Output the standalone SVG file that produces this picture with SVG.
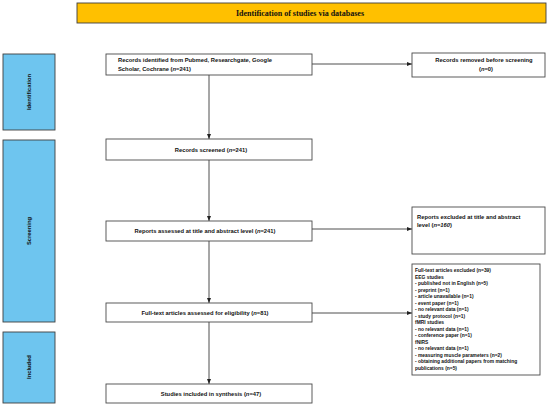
<svg xmlns="http://www.w3.org/2000/svg" width="550" height="408" viewBox="0 0 550 408">
<style>
.box{fill:#fff;stroke:#4a4a4a;stroke-width:0.9}
.side{fill:#6ec5ef;stroke:#3f3f3f;stroke-width:0.9}
.t{font-family:"Liberation Sans",Arial,sans-serif;font-weight:bold;font-size:5.8px;fill:#111}
.s{font-family:"Liberation Sans",Arial,sans-serif;font-weight:bold;font-size:4.9px;fill:#111}
.c{stroke:#222;stroke-width:0.8;fill:none}
i,.i{font-style:italic}
</style>
<defs>
<marker id="ah" viewBox="0 0 10 10" refX="10" refY="5" markerWidth="5" markerHeight="5" orient="auto" markerUnits="userSpaceOnUse">
<path d="M0,1 L10,5 L0,9 z" fill="#222"/>
</marker>
</defs>
<rect width="550" height="408" fill="#fff"/>
<g id="title">
<rect x="77" y="3" width="469" height="20" fill="#ffc000" stroke="#3f3f3f" stroke-width="0.9"/>
<text x="300" y="16" text-anchor="middle" font-family="Liberation Serif,'Times New Roman',serif" font-weight="bold" font-size="8" fill="#111">Identification of studies via databases</text>
</g>
<g id="side-identification">
<rect class="side" x="3" y="54" width="52" height="76"/>
<text class="t" transform="translate(31,92) rotate(-90)" text-anchor="middle">Identification</text>
</g>
<g id="side-screening">
<rect class="side" x="3" y="140" width="52" height="182"/>
<text class="t" transform="translate(31,231) rotate(-90)" text-anchor="middle">Screening</text>
</g>
<g id="side-included">
<rect class="side" x="3" y="332" width="52" height="71"/>
<text class="t" transform="translate(31,367) rotate(-90)" text-anchor="middle">Included</text>
</g>
<g id="connectors">
<line class="c" x1="312" y1="64" x2="412" y2="64" marker-end="url(#ah)"/>
<line class="c" x1="209" y1="75" x2="209" y2="139" marker-end="url(#ah)"/>
<line class="c" x1="209" y1="160" x2="209" y2="221" marker-end="url(#ah)"/>
<line class="c" x1="312" y1="229" x2="412" y2="229" marker-end="url(#ah)"/>
<line class="c" x1="209" y1="241" x2="209" y2="303" marker-end="url(#ah)"/>
<line class="c" x1="312" y1="313" x2="412" y2="313" marker-end="url(#ah)"/>
<line class="c" x1="209" y1="322" x2="209" y2="384" marker-end="url(#ah)"/>
</g>
<g id="records-identified">
<rect class="box" x="106" y="54" width="206" height="21"/>
<text class="t" x="118" y="62">Records identified from Pubmed, Researchgate, Google</text>
<text class="t" x="118" y="71">Scholar, Cochrane (<tspan class="i">n</tspan>=241)</text>
</g>
<g id="records-removed">
<rect class="box" x="412" y="53" width="133" height="24"/>
<text class="t" x="484" y="62" text-anchor="middle">Records removed before screening</text>
<text class="t" x="486" y="71" text-anchor="middle">(<tspan class="i">n</tspan>=0)</text>
</g>
<g id="records-screened">
<rect class="box" x="106" y="139" width="206" height="21"/>
<text class="t" x="211" y="152" text-anchor="middle">Records screened (<tspan class="i">n</tspan>=241)</text>
</g>
<g id="reports-assessed">
<rect class="box" x="106" y="221" width="206" height="20"/>
<text class="t" x="205" y="233" text-anchor="middle">Reports assessed at title and abstract level (<tspan class="i">n</tspan>=241)</text>
</g>
<g id="reports-excluded">
<rect class="box" x="412" y="207" width="133" height="47"/>
<text class="t" x="417" y="219">Reports excluded at title and abstract</text>
<text class="t" x="417" y="227">level (<tspan class="i">n=160</tspan>)</text>
</g>
<g id="fulltext-assessed">
<rect class="box" x="106" y="303" width="206" height="19"/>
<text class="t" x="205" y="314.5" text-anchor="middle">Full-text articles assessed for eligibility (<tspan class="i">n</tspan>=81)</text>
</g>
<g id="fulltext-excluded">
<rect class="box" x="412" y="264" width="128" height="111"/>
<text class="s" x="415" y="272">Full-text articles excluded (n=39)</text>
<text class="s" x="415" y="278.5">EEG studies</text>
<text class="s" x="415" y="285">- published not in English (n=5)</text>
<text class="s" x="415" y="291.5">- preprint (n=1)</text>
<text class="s" x="415" y="298">- article unavailable (n=1)</text>
<text class="s" x="415" y="304.5">- event paper (n=1)</text>
<text class="s" x="415" y="311">- no relevant data (n=1)</text>
<text class="s" x="415" y="317.5">- study protocol (n=1)</text>
<text class="s" x="415" y="324">fMRI studies</text>
<text class="s" x="415" y="330.5">- no relevant data (n=1)</text>
<text class="s" x="415" y="337">- conference paper (n=1)</text>
<text class="s" x="415" y="343.5">fNIRS</text>
<text class="s" x="415" y="350">- no relevant data (n=1)</text>
<text class="s" x="415" y="356.5">- measuring muscle parameters (n=2)</text>
<text class="s" x="415" y="363">- obtaining additional papers from matching</text>
<text class="s" x="415" y="369.5">publications (n=5)</text>
</g>
<g id="studies-included">
<rect class="box" x="106" y="384" width="206" height="19"/>
<text class="t" x="211" y="395.5" text-anchor="middle">Studies included in synthesis (<tspan class="i">n</tspan>=47)</text>
</g>
</svg>
